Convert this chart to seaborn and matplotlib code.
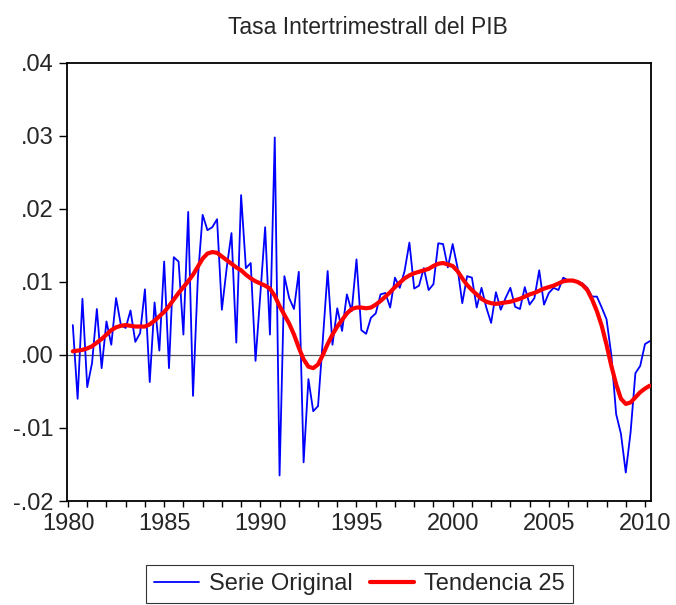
import numpy as np
import pandas as pd
import matplotlib
matplotlib.use("Agg")
import matplotlib.pyplot as plt
import seaborn as sns

sns.set_style("ticks")
plt.rcParams['font.family'] = ['Liberation Sans', 'DejaVu Sans']

# datos trimestrales 1980Q2 - 2010Q2
primer_trim = "1980Q2"
ultimo_trim = "2010Q2"

serie_original = [
    0.0041, -0.0060, 0.0077, -0.0044, -0.0011, 0.0063, -0.0018, 0.0046, 0.0014, 0.0078,
    0.0041, 0.0037, 0.0061, 0.0018, 0.0030, 0.0090, -0.0037, 0.0072, 0.0006, 0.0128,
    -0.0018, 0.0134, 0.0128, 0.0028, 0.0196, -0.0056, 0.0105, 0.0192, 0.0171, 0.0175,
    0.0186, 0.0062, 0.0119, 0.0167, 0.0017, 0.0219, 0.0119, 0.0126, -0.0008, 0.0083,
    0.0175, 0.0028, 0.0298, -0.0165, 0.0108, 0.0078, 0.0063, 0.0114, -0.0147, -0.0033,
    -0.0077, -0.0070, 0.0021, 0.0115, 0.0014, 0.0064, 0.0033, 0.0083, 0.0060, 0.0131,
    0.0034, 0.0029, 0.0051, 0.0057, 0.0083, 0.0085, 0.0065, 0.0106, 0.0092, 0.0115,
    0.0154, 0.0091, 0.0095, 0.0119, 0.0089, 0.0097, 0.0153, 0.0152, 0.0120, 0.0152,
    0.0120, 0.0071, 0.0108, 0.0106, 0.0065, 0.0092, 0.0065, 0.0044, 0.0086, 0.0062,
    0.0078, 0.0092, 0.0066, 0.0063, 0.0093, 0.0069, 0.0078, 0.0116, 0.0069, 0.0085,
    0.0092, 0.0089, 0.0106, 0.0102, 0.0101, 0.0101, 0.0098, 0.0092, 0.0080, 0.0080,
    0.0065, 0.0049, 0.0000, -0.0081, -0.0108, -0.0161, -0.0106, -0.0025, -0.0015, 0.0015,
    0.0019,
]

tendencia_25 = [
    0.0005, 0.0006, 0.0007, 0.0009, 0.0012, 0.0017, 0.0022, 0.0028, 0.0034, 0.0038,
    0.0040, 0.0041, 0.0040, 0.0039, 0.0039, 0.0039, 0.0042, 0.0047, 0.0053, 0.0059,
    0.0067, 0.0076, 0.0085, 0.0093, 0.0101, 0.0110, 0.0121, 0.0132, 0.0139, 0.0141,
    0.0140, 0.0135, 0.0130, 0.0125, 0.0120, 0.0116, 0.0110, 0.0105, 0.0101, 0.0098,
    0.0095, 0.0091, 0.0081, 0.0067, 0.0055, 0.0043, 0.0028, 0.0010, -0.0006, -0.0016,
    -0.0018, -0.0013, 0.0000, 0.0015, 0.0028, 0.0039, 0.0048, 0.0057, 0.0063, 0.0065,
    0.0065, 0.0064, 0.0065, 0.0069, 0.0074, 0.0080, 0.0086, 0.0093, 0.0099, 0.0105,
    0.0109, 0.0112, 0.0114, 0.0116, 0.0118, 0.0122, 0.0125, 0.0126, 0.0124, 0.0122,
    0.0115, 0.0105, 0.0096, 0.0089, 0.0083, 0.0077, 0.0073, 0.0071, 0.0070, 0.0071,
    0.0072, 0.0073, 0.0075, 0.0077, 0.0080, 0.0083, 0.0085, 0.0088, 0.0091, 0.0093,
    0.0095, 0.0098, 0.0101, 0.0102, 0.0102, 0.0100, 0.0096, 0.0089, 0.0076, 0.0060,
    0.0040, 0.0014, -0.0015, -0.0040, -0.0060, -0.0067, -0.0065, -0.0058, -0.0051, -0.0046,
    -0.0042,
]

anios_etiqueta = [1980, 1985, 1990, 1995, 2000, 2005, 2010]
y_ticks = [-0.02, -0.01, 0.00, 0.01, 0.02, 0.03, 0.04]
y_labels = ["-.02", "-.01", ".00", ".01", ".02", ".03", ".04"]

trim = pd.period_range(primer_trim, ultimo_trim, freq="Q")
df = pd.DataFrame({
    "fecha": np.asarray(trim.year) + (np.asarray(trim.quarter) - 1) / 4,
    "serie": serie_original,
    "tend": tendencia_25,
})

W, H = 676, 605
fig = plt.figure(figsize=(W / 100, H / 100), dpi=100)
ax = fig.add_axes([67 / W, 1 - 501 / H, (651 - 67) / W, (501 - 63) / H])

ax.axhline(0, color="#555555", linewidth=0.9, zorder=1)
sns.lineplot(data=df, x="fecha", y="serie", color="#0000ff", linewidth=1.3,
             label="Serie Original", ax=ax, zorder=2)
sns.lineplot(data=df, x="fecha", y="tend", color="#ff0000", linewidth=3.0,
             label="Tendencia 25", ax=ax, zorder=3)

ax.set_xlim(1979.948, 2010.312)
ax.set_ylim(-0.02, 0.04)
anios = list(range(1980, 2011))
ax.set_xticks(anios)
ax.set_xticklabels([str(a) if a in anios_etiqueta else "" for a in anios])
ax.set_yticks(y_ticks)
ax.set_yticklabels(y_labels)
ax.tick_params(axis='y', length=6, width=1, labelsize=17, pad=3.5, color='black')
ax.tick_params(axis='x', length=4.5, width=1, labelsize=17, pad=4, color='black')
for s in ax.spines.values():
    s.set_color("black")
    s.set_linewidth(1.3)
ax.set_xlabel("")
ax.set_ylabel("")
ax.set_title("Tasa Intertrimestrall del PIB", fontsize=16.5, pad=21, x=0.515)

handles, labels = ax.get_legend_handles_labels()
ax.legend_.remove()
leg = fig.legend(handles, labels, loc="center", bbox_to_anchor=(359.5 / W, 1 - 584 / H),
                 ncol=2, frameon=True, fancybox=False, edgecolor="black", fontsize=17,
                 handlelength=1.9, columnspacing=0.72, borderpad=0.35, handletextpad=0.42)
leg.get_frame().set_linewidth(0.8)

fig.savefig("out.png", dpi=100)
